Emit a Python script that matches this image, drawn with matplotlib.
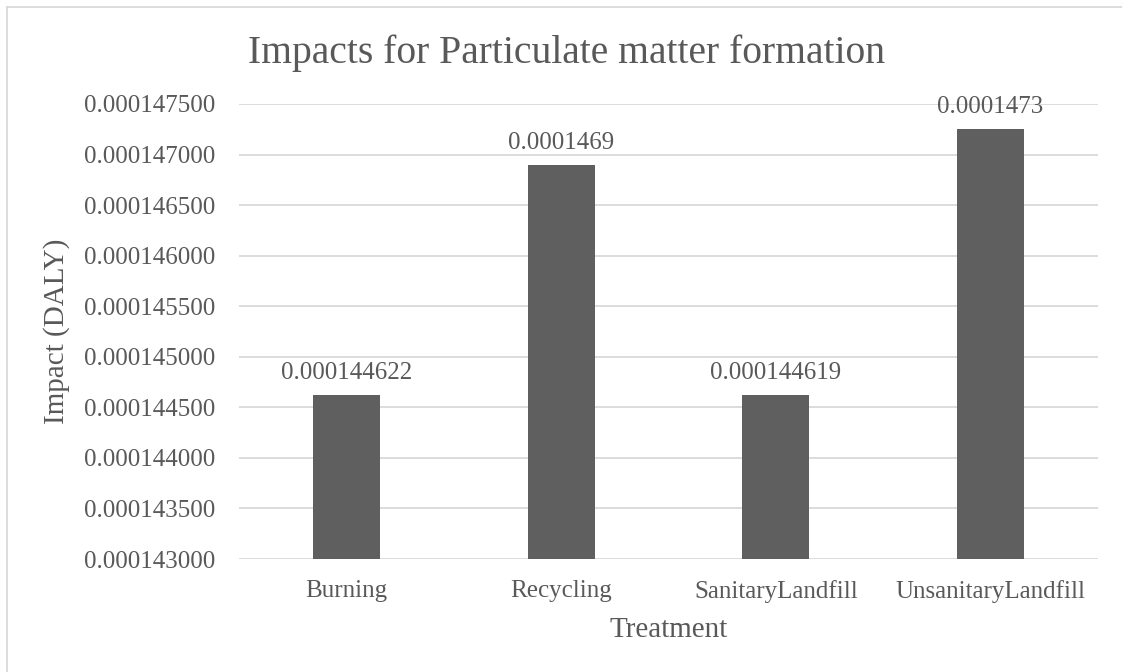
import matplotlib.pyplot as plt
from matplotlib.lines import Line2D

treatments = ["Burning", "Recycling", "SanitaryLandfill", "UnsanitaryLandfill"]
impact = [0.000144622, 0.0001469, 0.000144619, 0.00014725]
impact_labels = ["0.000144622", "0.0001469", "0.000144619", "0.0001473"]
y_ticks = [0.000143 + 0.0000005 * i for i in range(10)]

TXT = "#595959"
GRID = "#d9d9d9"
BAR = "#5f5f5f"
plt.rcParams["font.family"] = ["Liberation Serif", "DejaVu Serif"]

fig = plt.figure(figsize=(11.22, 6.72), dpi=100)
ax = fig.add_axes([239 / 1122, 1 - 559 / 672, (1098 - 239) / 1122, (559 - 104) / 672])

x = range(len(treatments))
bars = ax.bar(x, impact, width=0.313, color=BAR, zorder=2)
for b, lab in zip(bars, impact_labels):
    ax.annotate(lab, (b.get_x() + b.get_width() / 2, b.get_height()),
                xytext=(0, 11.5), textcoords="offset points",
                ha="center", va="baseline", fontsize=18, color=TXT)

ax.set_ylim(0.000143, 0.0001475)
ax.set_xlim(-0.5, len(treatments) - 0.5)
ax.set_yticks(y_ticks)
ax.set_yticklabels([f"{v:.9f}" for v in y_ticks])
ax.set_xticks(list(x))
ax.set_xticklabels(treatments)
ax.tick_params(axis="both", length=0, labelsize=18, colors=TXT)
ax.tick_params(axis="y", pad=17)
ax.tick_params(axis="x", pad=15)
ax.yaxis.grid(True, color=GRID, linewidth=1.3, zorder=0)
for s in ax.spines.values():
    s.set_visible(False)

ax.set_xlabel("Treatment", fontsize=21, color=TXT, labelpad=10)
ax.set_ylabel("Impact (DALY)", fontsize=21, color=TXT, labelpad=10)
fig.text(567 / 1122, 1 - 63 / 672, "Impacts for Particulate matter formation",
         ha="center", va="baseline", fontsize=28.5, color=TXT)

# chart frame (only the left and top edges are visible)
fig.add_artist(Line2D([7 / 1122, 7 / 1122], [0, 1 - 7 / 672], color=GRID, linewidth=1.3))
fig.add_artist(Line2D([7 / 1122, 1], [1 - 7 / 672, 1 - 7 / 672], color=GRID, linewidth=1.3))

fig.savefig("out.png", dpi=100)
